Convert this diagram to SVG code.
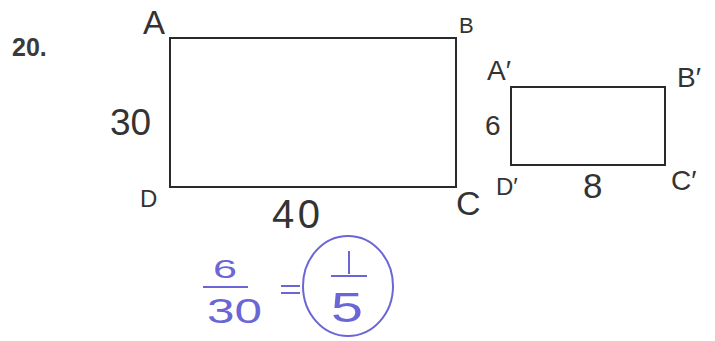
<svg xmlns="http://www.w3.org/2000/svg" width="715" height="341" viewBox="0 0 715 341">
<style>
.shape{fill:none;stroke:#2a2a2a;stroke-width:2}
.hw{font-family:"Liberation Sans",Arial,sans-serif;fill:#333333}
.blue{font-family:"Liberation Sans",Arial,sans-serif;fill:#6b66d6}
.bl{stroke:#6b66d6;stroke-width:2;fill:none}
</style>
<rect width="715" height="341" fill="#ffffff"/>
<text x="12" y="56" font-family="Liberation Sans, Arial, sans-serif" font-weight="bold" font-size="25" fill="#3a3a3a">20.</text>
<g id="rectABCD">
<rect class="shape" x="170" y="38" width="286" height="149"/>
<text class="hw" x="143" y="34" font-size="33">A</text>
<text class="hw" x="459" y="33" font-size="22">B</text>
<text class="hw" x="456" y="215" font-size="34">C</text>
<text class="hw" x="140" y="207" font-size="24">D</text>
<text class="hw" x="110" y="135" font-size="37">30</text>
<text class="hw" x="272" y="228" font-size="40" textLength="48">40</text>
</g>
<g id="rectA1B1C1D1">
<rect class="shape" x="511" y="87" width="154" height="78"/>
<text class="hw" x="487" y="80" font-size="28">A′</text>
<text class="hw" x="677" y="87" font-size="28">B′</text>
<text class="hw" x="671" y="190" font-size="28">C′</text>
<text class="hw" x="496" y="195" font-size="24">D′</text>
<text class="hw" x="485" y="135" font-size="28">6</text>
<text class="hw" x="583" y="198" font-size="35">8</text>
</g>
<g id="answer">
<text class="blue" x="213" y="278" font-size="25" textLength="24" lengthAdjust="spacingAndGlyphs">6</text>
<line class="bl" x1="203" y1="287" x2="248" y2="287"/>
<text class="blue" x="207" y="323" font-size="35" textLength="55" lengthAdjust="spacingAndGlyphs">30</text>
<line class="bl" x1="281" y1="286" x2="300" y2="286"/>
<line class="bl" x1="281" y1="293" x2="300" y2="293"/>
<ellipse class="bl" cx="348" cy="286" rx="45" ry="50"/>
<line class="bl" x1="349" y1="251" x2="349" y2="274"/>
<line class="bl" x1="331" y1="276" x2="367" y2="276"/>
<text class="blue" x="331" y="322" font-size="43" textLength="32" lengthAdjust="spacingAndGlyphs">5</text>
</g>
</svg>
